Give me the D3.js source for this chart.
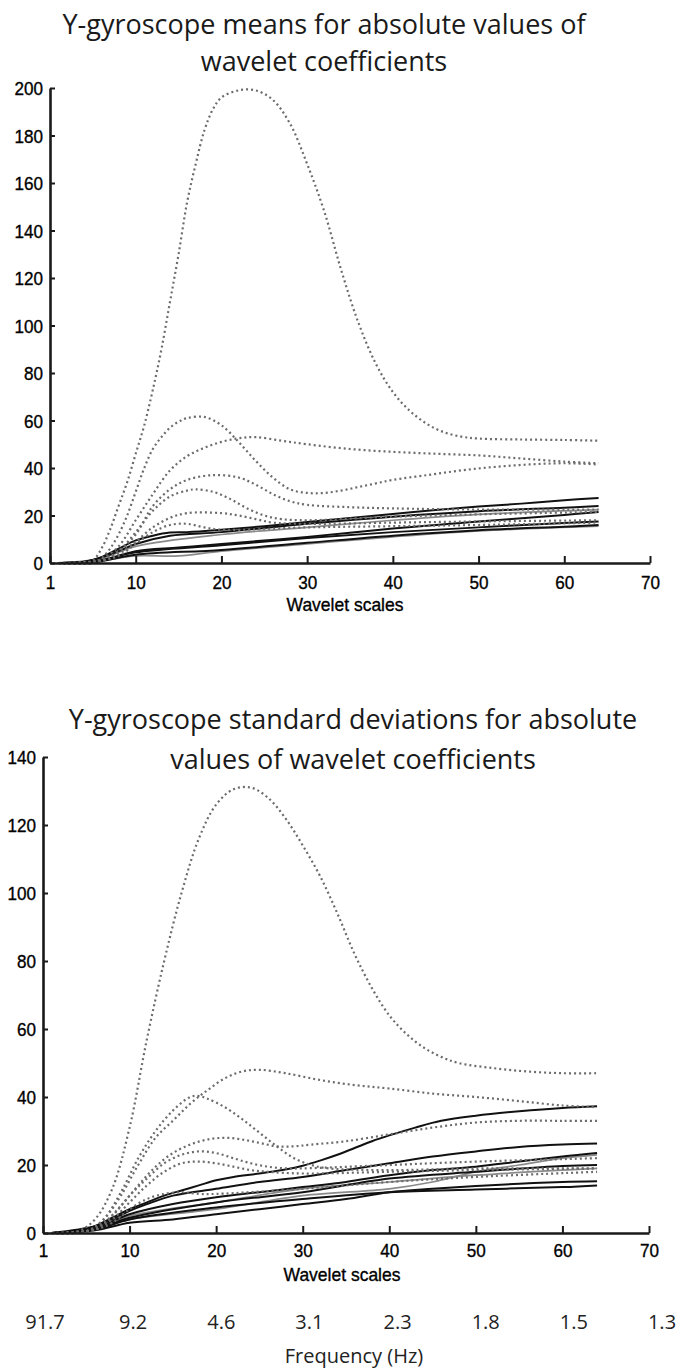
<!DOCTYPE html>
<html>
<head>
<meta charset="utf-8">
<script src="https://cdn.jsdelivr.net/npm/d3@7"></script>
<style>
  body { margin: 0; background: #fff; }
  svg { display: block; }
  .title { font-family: "Open Sans", "Noto Sans", sans-serif; font-size: 27px; fill: #1a1a1a; }
  .tick text, .axlabel { font-family: "Liberation Sans", Arial, sans-serif; font-size: 19px; fill: #000; stroke: #000; stroke-width: 0.35px; }
  .freq { font-family: "Open Sans", "Noto Sans", sans-serif; font-size: 20px; fill: #222; }
</style>
</head>
<body>
<script>
// ---------------------------------------------------------------------------
// DATA (x = wavelet scale, y = value)
// ---------------------------------------------------------------------------
const xTicks = [0, 10, 20, 30, 40, 50, 60, 70];
const xTickLabels = ['1', '10', '20', '30', '40', '50', '60', '70'];
const yTicksMean = [0, 20, 40, 60, 80, 100, 120, 140, 160, 180, 200];
const yTicksStd = [0, 20, 40, 60, 80, 100, 120, 140];
const freqLabels = ['91.7', '9.2', '4.6', '3.1', '2.3', '1.8', '1.5', '1.3'];

// means chart - dotted curves
const meanDotted = [
  [[1,0],[4,0],[5,1],[6,6],[7,14],[8,24],[9,34],[10,46],[11,58],[12,73],[13,90],[14,110],[15,130],[16,152],[17,168],[18,182],[19,191],[20,196],[22,199],[24,199],[26,195],[28,185],[30,168],[32,148],[34,123],[36,101],[38,84],[40,72],[42,64],[44,58.5],[46,55],[48,53.2],[50,52.4],[55,52],[60,51.8],[64,51.5]],
  [[1,0],[5,0],[6,2],[7,6],[8,12],[9,20],[10,30],[11,40],[12,48],[13,53],[14,57],[15,59.5],[16,61],[18,61.5],[20,58],[22,51],[24,43],[26,36],[28,31],[30,29.5],[32,29.5],[34,30.5],[36,32],[38,33.5],[40,35],[44,37],[48,39],[52,40.5],[56,41.5],[60,42],[64,41.5]],
  [[1,0],[5,0],[6,1.5],[8,7],[10,18],[12,29],[14,39],[16,45],[18,48.5],[20,51],[22,52.5],[24,53],[27,51.5],[30,50],[35,48],[40,46.8],[45,46],[50,45.3],[55,44],[60,42.7],[64,42]],
  [[1,0],[6,1],[8,5],[10,12],[12,24],[14,31],[16,35],[19,37],[22,36],[24,33],[26,29],[28,26],[30,24.5],[35,23.5],[40,23],[50,22.5],[64,22.5]],
  [[1,0],[6,1],[8,5],[10,13],[12,22],[14,28],[16,30.5],[17,31],[19,30],[21,27],[23,23],[25,20],[27,18.5],[30,18],[40,19.5],[50,20.5],[64,21.5]],
  [[1,0],[6,1],[8,4],[10,9],[12,15],[14,19],[16,21],[20,21],[22,20],[24,18.5],[26,17],[30,16.5],[40,17],[50,17.5],[64,18]],
  [[1,0],[6,1],[8,3],[10,8],[12,13],[14,16],[16,16.5],[18,15],[20,14],[30,15],[40,15.5],[50,16],[64,17]]
];
// means chart - solid curves (black)
const meanSolid = [
  [[1,0],[4,0.5],[6,2.5],[8,6],[10,9.5],[12,11.5],[14,12.8],[16,13],[20,14],[25,15.5],[30,17.3],[35,19],[40,20.6],[45,22.3],[50,23.8],[55,25],[60,26.4],[64,27.4]],
  [[1,0],[4,0.5],[6,2.3],[8,5],[10,8],[14,11.5],[20,13],[30,16.5],[40,19.5],[50,21.8],[60,23.3],[64,24]],
  [[1,0],[5,0.5],[7,2],[10,5],[15,6.5],[20,8],[30,11],[40,14.5],[50,17.5],[60,20.2],[64,21.5]],
  [[1,0],[5,0.5],[7,2],[10,4.5],[20,7.5],[30,10.5],[40,13],[50,15],[60,16.8],[64,17.5]],
  [[1,0],[5,0.3],[7,1.5],[10,3.5],[20,5.5],[30,8.5],[40,11.5],[50,13.8],[60,15.3],[64,16]]
];
// means chart - solid curves (gray)
const meanGray = [
  [[1,0],[6,1],[10,3],[15,3],[20,5],[30,8],[40,11],[50,13.5],[64,15.5]],
  [[1,0],[6,2],[10,7],[20,12],[30,15],[40,18],[50,20.5],[64,22.5]]
];

// standard deviations chart - dotted curves
const stdDotted = [
  [[1,0],[4,0.5],[6,4],[8,13],[10,31],[12,57],[14,80],[16,100],[18,116],[20,126],[22,130.5],[24,131],[26,128],[28,122],[30,114],[32,105],[34,94],[36,82],[38,72],[40,64],[42,58.5],[44,54.5],[46,51.8],[48,50],[52,48.5],[56,47.5],[60,47],[64,47]],
  [[1,0],[5,0.5],[7,4],[9,11],[11,20],[13,28],[15,33],[17,38],[19,42],[21,45.5],[23,47.5],[25,48],[28,47],[32,45],[36,43.5],[40,42.5],[45,41],[50,40],[55,38.8],[60,37.5],[64,37]],
  [[1,0],[5,0.5],[7,4],[9,12],[11,22],[13,30],[15,36],[17,40],[18,40.3],[19,39.5],[21,37],[23,33.5],[25,29.5],[27,25.5],[29,22],[31,20],[33,19],[40,18.5],[50,19],[64,19]],
  [[1,0],[5,0.5],[7,3],[9,8],[11,14],[13,19.5],[15,23.5],[17,26],[19,27.5],[21,28],[23,27.5],[25,26.5],[27,25.5],[29,25.5],[31,26],[35,27],[40,29],[45,31],[50,32.5],[55,33],[60,33],[64,33]],
  [[1,0],[6,1],[8,5],[10,11],[12,16],[14,20.5],[16,23],[18,24],[20,23.5],[22,22],[24,20.5],[26,19.5],[28,19],[30,19],[40,20],[50,21],[64,22]],
  [[1,0],[6,1],[8,4],[10,9],[12,14],[14,18],[16,20.5],[18,21],[20,20.5],[22,19.5],[24,18.5],[26,18],[30,17.5],[40,18],[50,18.5],[64,19]],
  [[1,0],[6,1],[8,3],[10,7],[12,10],[14,11.5],[16,12],[18,11.5],[20,11.5],[30,13],[40,15],[50,16.5],[64,18]]
];
// standard deviations chart - solid curves (black)
const stdSolid = [
  [[1,0],[4,0.5],[6,2],[8,4.5],[10,7],[12,9],[14,11],[16,12.5],[18,14],[20,15.5],[22,16.5],[25,17.5],[28,18.7],[30,19.8],[32,21.3],[34,23],[36,25],[38,27],[40,28.7],[43,31],[46,33],[50,34.5],[55,35.8],[60,36.8],[64,37.3]],
  [[1,0],[6,2],[8,4],[10,6.5],[12,8.5],[15,11],[20,13],[25,15],[30,16.5],[35,18.5],[40,20.5],[45,22.5],[50,24],[55,25.3],[60,26],[64,26.3]],
  [[1,0],[6,1.5],[10,5.5],[15,8.5],[20,10.5],[25,12],[30,13.5],[35,15],[40,17],[45,18.5],[50,19.5],[55,21],[60,22.5],[64,23.5]],
  [[1,0],[6,1.2],[10,4.5],[20,9],[30,12],[40,16],[50,18],[60,19.7],[64,20]],
  [[1,0],[6,0.8],[10,3],[15,4],[20,5.5],[25,7],[30,8.5],[35,10],[40,12],[45,13],[50,13.8],[55,14.5],[60,15],[64,15.2]],
  [[1,0],[6,1],[10,4],[20,7.5],[30,10],[40,12],[50,12.8],[60,13.5],[64,14]]
];
// standard deviations chart - solid curves (gray)
const stdGray = [
  [[1,0],[6,1],[10,4],[20,7],[30,11],[40,13],[45,15],[50,18],[55,20],[60,22],[64,23]],
  [[1,0],[6,1.5],[10,5],[20,9],[30,13],[40,15],[50,17],[60,18.5],[64,19]]
];

// ---------------------------------------------------------------------------
// SET UP
// ---------------------------------------------------------------------------
const width = 682;
const height = 1371;

const svg = d3.select('body').append('svg')
  .attr('width', width)
  .attr('height', height);

// squeeze a text a bit so it reads like the narrow matlab font
function narrow(sel, k) {
  sel.each(function() {
    const w = this.getComputedTextLength();
    d3.select(this)
      .attr('textLength', w * k)
      .attr('lengthAdjust', 'spacingAndGlyphs');
  });
}

function drawPanel(opts) {
  const x = d3.scaleLinear().domain([0, 70]).range(opts.xRange);
  const y = d3.scaleLinear().domain([0, opts.yMax]).range(opts.yRange);
  const g = svg.append('g');

  // title, two lines
  g.selectAll('text.title')
    .data(opts.title)
    .enter()
    .append('text')
      .attr('class', 'title')
      .attr('x', opts.titleX)
      .attr('y', (d, i) => opts.titleY + i * opts.titleGap)
      .attr('text-anchor', 'middle')
      .text(d => d);

  const line = d3.line()
    .x(d => x(d[0]))
    .y(d => y(d[1]))
    .curve(d3.curveCatmullRom.alpha(0.5));

  // gray solid first, then black, dotted on top
  g.selectAll('path.gray')
    .data(opts.gray)
    .enter()
    .append('path')
      .attr('d', line)
      .attr('fill', 'none')
      .attr('stroke', '#8a8a8a')
      .attr('stroke-width', 1.7);

  g.selectAll('path.solid')
    .data(opts.solid)
    .enter()
    .append('path')
      .attr('d', line)
      .attr('fill', 'none')
      .attr('stroke', '#111')
      .attr('stroke-width', 2);

  g.selectAll('path.dotted')
    .data(opts.dotted)
    .enter()
    .append('path')
      .attr('d', line)
      .attr('fill', 'none')
      .attr('stroke', '#6c6c6c')
      .attr('stroke-width', 2.2)
      .attr('stroke-dasharray', '2,3');

  // axes - ticks point inward like the matlab figure
  const xAxis = d3.axisBottom(x)
    .tickValues(xTicks)
    .tickFormat((d, i) => xTickLabels[i])
    .tickSizeInner(-7)
    .tickSizeOuter(0)
    .tickPadding(opts.xPad);
  const yAxis = d3.axisLeft(y)
    .tickValues(opts.yTicks)
    .tickSizeInner(-5)
    .tickSizeOuter(0)
    .tickPadding(7);

  const gx = g.append('g')
    .attr('transform', `translate(0,${opts.yRange[0]})`)
    .call(xAxis);
  const gy = g.append('g')
    .attr('transform', `translate(${opts.xRange[0]},0)`)
    .call(yAxis);

  [gx, gy].forEach((a) => {
    a.select('.domain').attr('stroke', '#1a1a1a').attr('stroke-width', 2.6);
    a.selectAll('.tick line').attr('stroke', '#1a1a1a').attr('stroke-width', 2);
    a.selectAll('.tick text').attr('fill', '#000');
  });
  gx.selectAll('.tick text').attr('dy', '0.82em');
  gy.selectAll('.tick text').attr('dy', '0.35em');
  narrow(gx.selectAll('.tick text'), 0.9);
  narrow(gy.selectAll('.tick text'), 0.9);

  const lab = g.append('text')
    .attr('class', 'axlabel')
    .attr('x', opts.xlabelX)
    .attr('y', opts.yRange[0] + 48)
    .attr('text-anchor', 'middle')
    .text('Wavelet scales');
  narrow(lab, 0.92);

  return x;
}

// ---------------------------------------------------------------------------
// TOP: means
// ---------------------------------------------------------------------------
drawPanel({
  title: ['Y-gyroscope means for absolute values of', 'wavelet coefficients'],
  titleX: 324,
  titleY: 34,
  titleGap: 37,
  xRange: [50, 650],
  yRange: [563, 88],
  yMax: 200,
  yTicks: yTicksMean,
  xPad: 10,
  dotted: meanDotted,
  solid: meanSolid,
  gray: meanGray,
  xlabelX: 345,
});

// ---------------------------------------------------------------------------
// BOTTOM: standard deviations
// ---------------------------------------------------------------------------
drawPanel({
  title: ['Y-gyroscope standard deviations for absolute', 'values of wavelet coefficients'],
  titleX: 353,
  titleY: 729,
  titleGap: 40,
  xRange: [43, 649],
  yRange: [1233, 757],
  yMax: 140,
  yTicks: yTicksStd,
  xPad: 8,
  dotted: stdDotted,
  solid: stdSolid,
  gray: stdGray,
  xlabelX: 342,
});

// frequency row under the bottom chart
const freqX = d3.scaleLinear().domain([0, 70]).range([45, 662]);
svg.selectAll('text.freq')
  .data(freqLabels)
  .enter()
  .append('text')
    .attr('class', 'freq')
    .attr('x', (d, i) => freqX(xTicks[i]))
    .attr('y', 1329)
    .attr('text-anchor', 'middle')
    .text(d => d);

svg.append('text')
  .attr('class', 'freq')
  .attr('x', 354)
  .attr('y', 1363)
  .attr('text-anchor', 'middle')
  .text('Frequency (Hz)');
</script>
</body>
</html>
